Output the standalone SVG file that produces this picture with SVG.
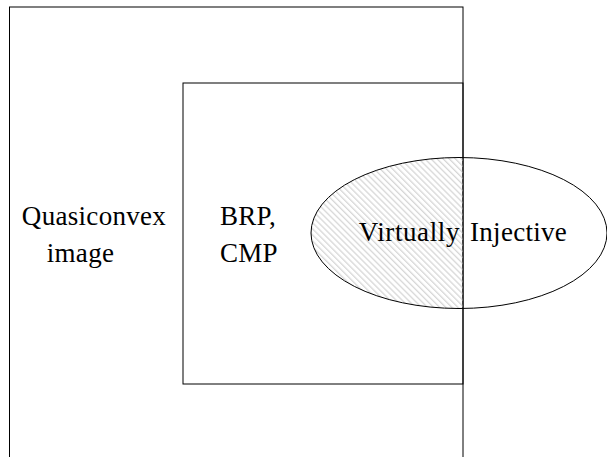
<svg xmlns="http://www.w3.org/2000/svg" width="607" height="457" viewBox="0 0 607 457">
<defs>
  <pattern id="hatch" patternUnits="userSpaceOnUse" width="4.3" height="4.3" patternTransform="rotate(45)">
    <line x1="0" y1="1" x2="4.3" y2="1" stroke="#b4b4b4" stroke-width="0.7"/>
  </pattern>
  <clipPath id="inner">
    <rect x="183" y="83" width="280" height="301"/>
  </clipPath>
</defs>
<rect width="607" height="457" fill="#fff"/>
<g id="quasiconvex">
  <rect fill="none" stroke="#000" x="9.5" y="7" width="453.5" height="470"/>
  <text font-family="Liberation Serif" font-size="27" x="94" y="225" text-anchor="middle" letter-spacing="0.3">Quasiconvex</text>
  <text font-family="Liberation Serif" font-size="27" x="80.5" y="262" text-anchor="middle" letter-spacing="0.3">image</text>
</g>
<g id="brp-cmp">
  <rect fill="none" stroke="#000" x="183" y="83" width="280" height="301"/>
  <text font-family="Liberation Serif" font-size="27" x="220" y="225" letter-spacing="0.3">BRP,</text>
  <text font-family="Liberation Serif" font-size="27" x="220" y="262" letter-spacing="0.3">CMP</text>
</g>
<g id="virtually-injective">
  <ellipse cx="459" cy="233" rx="148" ry="75.5" fill="url(#hatch)" clip-path="url(#inner)"/>
  <ellipse fill="none" stroke="#000" cx="459" cy="233" rx="148" ry="75.5"/>
  <text font-family="Liberation Serif" font-size="27" x="460" y="241" text-anchor="end" letter-spacing="0.6">Virtually</text>
  <text font-family="Liberation Serif" font-size="27" x="470" y="241" letter-spacing="0.3">Injective</text>
</g>
<g id="connectors"></g>
</svg>
